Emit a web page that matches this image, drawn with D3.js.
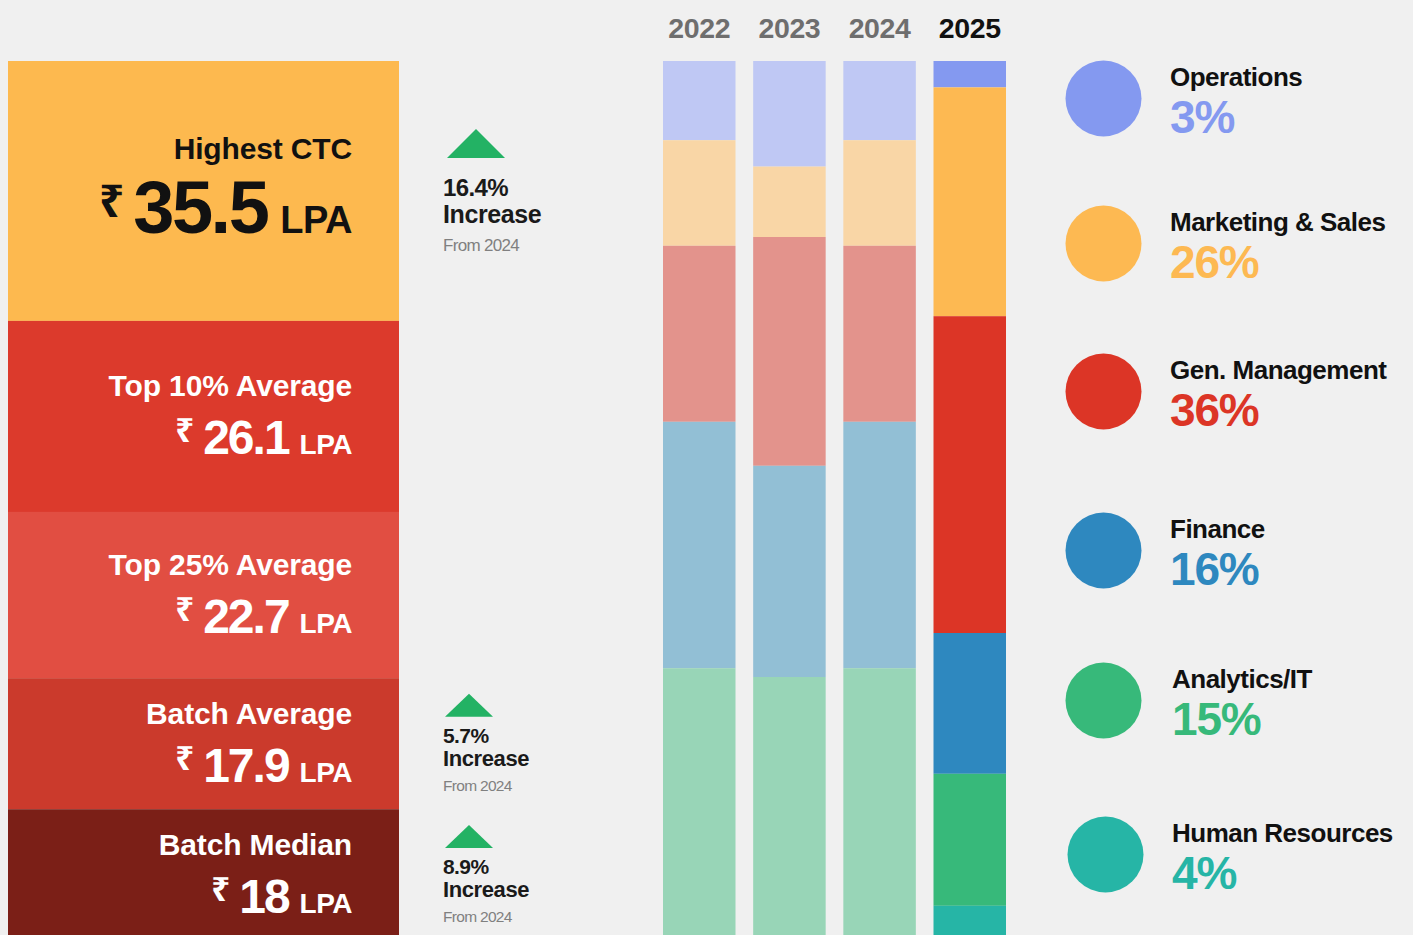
<!DOCTYPE html>
<html><head><meta charset="utf-8">
<script src="https://cdn.jsdelivr.net/npm/d3@7"></script>
<style>
html,body{margin:0;padding:0;background:#f0f0f0;}
svg{display:block;font-family:"Liberation Sans",Arial,"Noto Sans",sans-serif;}
</style></head>
<body>
<svg id="chart" width="1413" height="935"></svg>
<script>
// ---------- data ----------
const years = ["2022", "2023", "2024", "2025"];
const departments = ["Operations", "Marketing & Sales", "Gen. Management", "Finance", "Analytics/IT", "Human Resources"];
const share2022 = [9, 12, 20, 28, 31, 0];
const share2023 = [12, 8, 26, 24, 30, 0];
const share2024 = [9, 12, 20, 28, 31, 0];
const share2025 = [3, 26, 36, 16, 15, 4];
const fullColors = ["#8499f0", "#fdb952", "#dc3526", "#2e88bf", "#37b97a", "#26b5a6"];
const fadedColors = ["#bfc8f4", "#f9d6a6", "#e3938c", "#92bfd5", "#98d5b7", "#9fdcd4"];

const metricLabels = ["Highest CTC", "Top 10% Average", "Top 25% Average", "Batch Average", "Batch Median"];
const metricValues = [35.5, 26.1, 22.7, 17.9, 18];
const metricColors = ["#fdb94f", "#dc3a2c", "#e14e42", "#cb3a2c", "#7b1f17"];

const changeMetrics = ["Highest CTC", "Batch Average", "Batch Median"];
const changeValues = [16.4, 5.7, 8.9];
const changeBase = "From 2024";

// ---------- setup ----------
const svg = d3.select("#chart");
const TOP = 61, BOTTOM = 941;

// ---------- left stacked metric blocks ----------
const metricTotal = d3.sum(metricValues);
const yM = d3.scaleLinear().domain([0, metricTotal]).range([TOP, BOTTOM]);
let acc = 0;
const blocks = metricLabels.map((l, i) => {
  const b = {label: l, value: metricValues[i], y0: acc, y1: acc + metricValues[i], i};
  acc += metricValues[i];
  return b;
});

const left = svg.append("g");
left.selectAll("rect").data(blocks).join("rect")
  .attr("x", 8).attr("width", 391)
  .attr("y", d => yM(d.y0)).attr("height", d => yM(d.y1) - yM(d.y0))
  .attr("fill", (d, i) => metricColors[i]);

const TX = 352;
blocks.forEach(b => {
  const c = (yM(b.y0) + yM(b.y1)) / 2;
  const big = b.i === 0;
  const col = big ? "#111" : "#fff";
  left.append("text")
    .attr("x", TX).attr("y", big ? c - 32 : c - 20)
    .attr("text-anchor", "end").attr("fill", col)
    .attr("font-weight", 700).attr("font-size", 30).attr("letter-spacing", -0.15)
    .text(b.label);
  const t = left.append("text")
    .attr("x", TX).attr("y", big ? c + 42 : c + 38)
    .attr("text-anchor", "end").attr("fill", col).attr("font-weight", 700);
  t.append("tspan").attr("font-size", big ? 44 : 33)
    .attr("font-family", "'Noto Sans','DejaVu Sans',sans-serif")
    .attr("dy", big ? -16 : -12).text("₹");
  t.append("tspan").attr("font-size", big ? 74 : 48).attr("letter-spacing", big ? -2.5 : -2)
    .attr("dx", big ? 9 : 9).attr("dy", big ? 16 : 12).text(b.value);
  t.append("tspan").attr("font-size", big ? 38 : 28).attr("letter-spacing", -0.5)
    .attr("dx", big ? 13 : 11).text("LPA");
});

// ---------- change annotations ----------
const ann = svg.append("g");
changeMetrics.forEach((m, k) => {
  const b = blocks.find(d => d.label === m);
  const c = (yM(b.y0) + yM(b.y1)) / 2;
  const big = b.i === 0;
  const tTop = big ? c - 62 : c - 50, tBot = big ? c - 33 : c - 27;
  const tL = big ? 447 : 445, tR = big ? 505 : 493;
  ann.append("path")
    .attr("d", `M${tL},${tBot}L${(tL + tR) / 2},${tTop}L${tR},${tBot}Z`)
    .attr("fill", "#23b264");
  ann.append("text").attr("x", 443).attr("y", big ? c + 5 : c - 1)
    .attr("font-weight", 700).attr("font-size", big ? 24 : 21).attr("letter-spacing", -0.6)
    .attr("fill", "#1a1a1a").text(changeValues[k] + "%");
  ann.append("text").attr("x", 443).attr("y", big ? c + 32 : c + 22)
    .attr("font-weight", 700).attr("font-size", big ? 25 : 22).attr("letter-spacing", -0.4)
    .attr("fill", "#1a1a1a").text("Increase");
  ann.append("text").attr("x", 443).attr("y", big ? c + 60 : c + 47)
    .attr("font-size", big ? 17 : 15.5).attr("letter-spacing", -0.7)
    .attr("fill", "#808080").text(changeBase);
});

// ---------- stacked department bars ----------
const shares = [share2022, share2023, share2024, share2025];
const table = years.map((y, i) => {
  const row = {year: y};
  departments.forEach((d, j) => row[d] = shares[i][j]);
  return row;
});
const stack = d3.stack().keys(departments)(table);
const x = d3.scaleBand().domain(years).range([663, 1006]).paddingInner(0.196);
const y = d3.scaleLinear().domain([0, 100]).range([TOP, BOTTOM]);
const latest = years[years.length - 1];

const bars = svg.append("g");
stack.forEach((layer, j) => {
  bars.selectAll(null).data(layer).join("rect")
    .attr("x", d => x(d.data.year)).attr("width", x.bandwidth())
    .attr("y", d => y(d[0])).attr("height", d => y(d[1]) - y(d[0]))
    .attr("fill", d => d.data.year === latest ? fullColors[j] : fadedColors[j]);
});

svg.append("g").selectAll("text").data(years).join("text")
  .attr("x", d => x(d) + x.bandwidth() / 2).attr("y", 38)
  .attr("text-anchor", "middle").attr("font-weight", 700).attr("font-size", 28.5)
  .attr("letter-spacing", -0.4)
  .attr("fill", d => d === latest ? "#111" : "#6e6e6e")
  .text(d => d);

// ---------- legend ----------
const legendY = [98.5, 243.5, 391.5, 550.5, 700.5, 854.5];
const lg = svg.append("g");
departments.forEach((d, j) => {
  const cy = legendY[j];
  const cx = j === 5 ? 1105.5 : 1103.5;
  lg.append("circle").attr("cx", cx).attr("cy", cy).attr("r", 38).attr("fill", fullColors[j]);
  const tx = j >= 4 ? 1172 : 1170;
  lg.append("text").attr("x", tx).attr("y", cy - 13)
    .attr("font-weight", 700).attr("font-size", 26).attr("letter-spacing", -0.5)
    .attr("fill", "#111").text(d);
  lg.append("text").attr("x", tx).attr("y", cy + 34)
    .attr("font-weight", 700).attr("font-size", 46).attr("letter-spacing", -1.2)
    .attr("fill", fullColors[j]).text(share2025[j] + "%");
});
</script>
</body></html>
